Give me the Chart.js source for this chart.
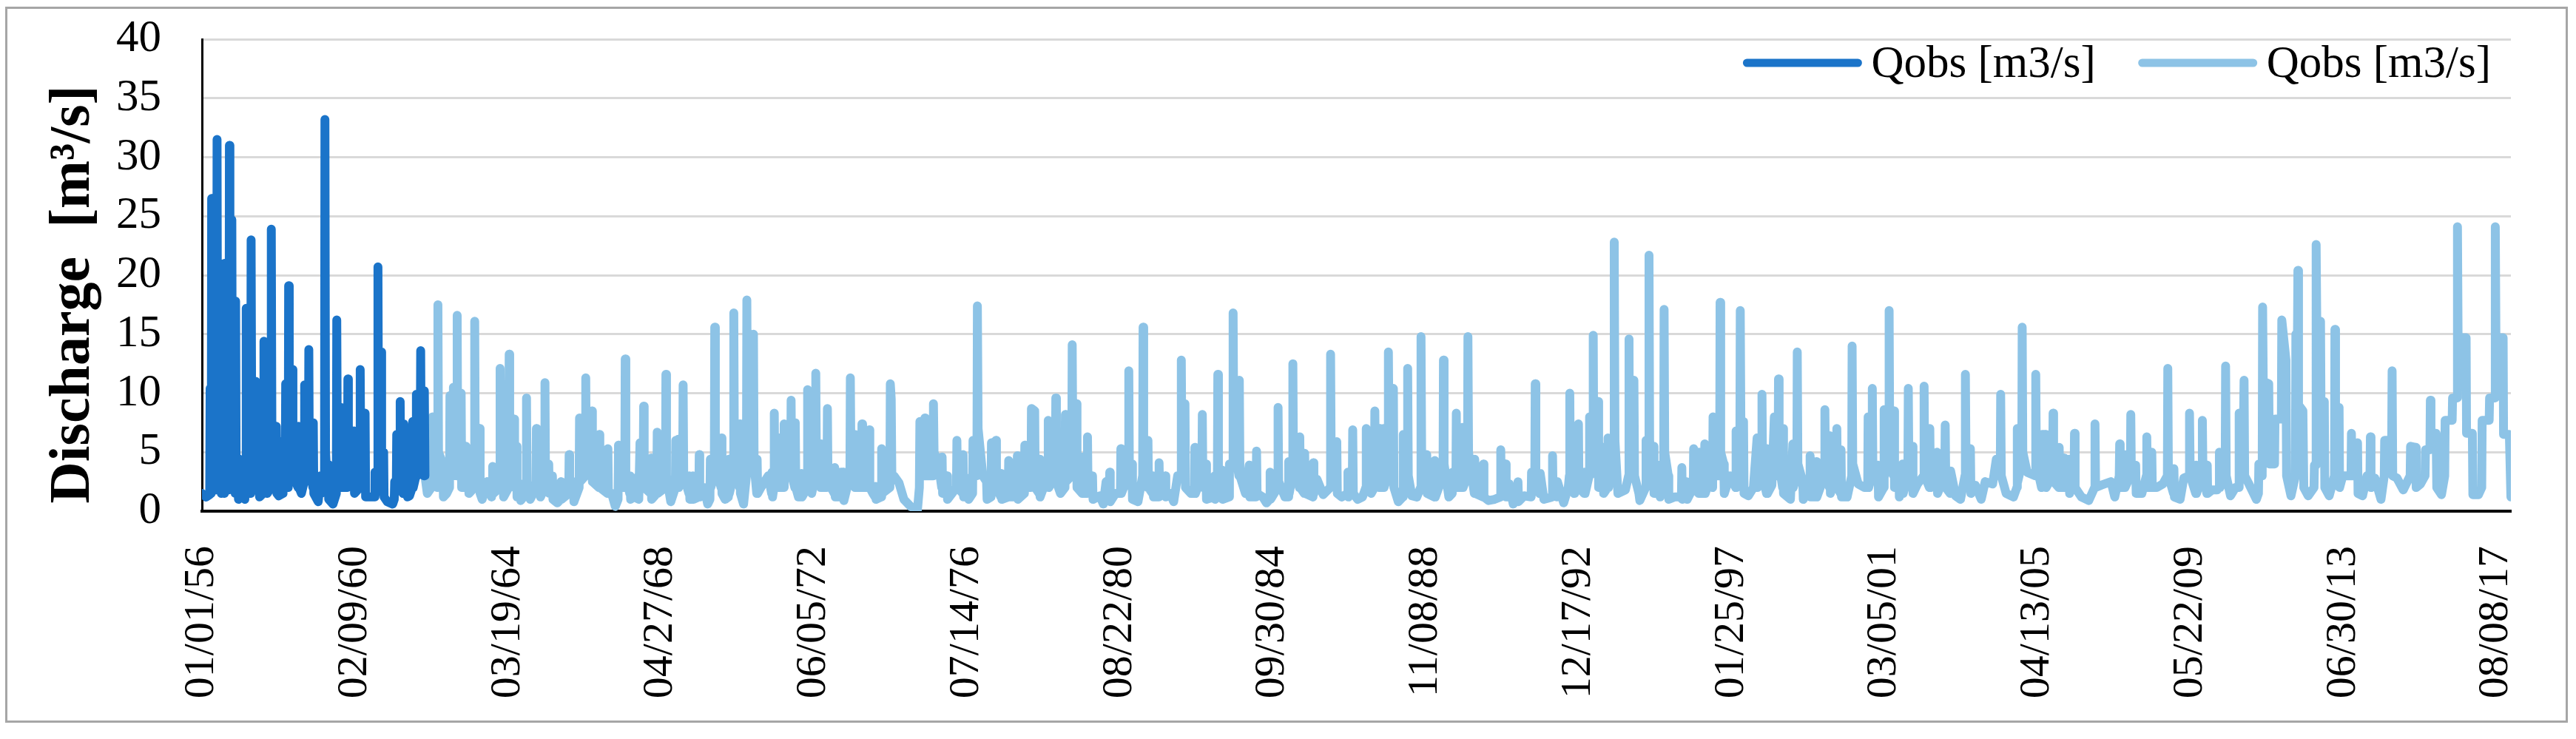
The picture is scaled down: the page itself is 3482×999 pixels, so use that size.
<!DOCTYPE html>
<html>
<head>
<meta charset="utf-8">
<script src="https://cdn.jsdelivr.net/npm/chart.js@4/dist/chart.umd.min.js"></script>
<style>
html,body{margin:0;padding:0;background:#fff;}
#wrap{position:relative;width:3482px;height:999px;overflow:hidden;}
#frame{position:absolute;left:7px;top:9px;width:3458px;height:962px;border:3px solid #a6a6a6;}
#c{position:absolute;left:0;top:0;}
</style>
</head>
<body>
<div id="wrap"><div id="frame"></div><canvas id="c" width="3482" height="999"></canvas></div>
<script>
// x values are days since 01/01/1956
const axisEndDay = 22645;
const tickDays = [0,1500,3000,4500,6000,7500,9000,10500,12000,13500,15000,16500,18000,19500,21000,22500];
const tickLabels = ['01/01/56','02/09/60','03/19/64','04/27/68','06/05/72','07/14/76','08/22/80','09/30/84','11/08/88','12/17/92','01/25/97','03/05/01','04/13/05','05/22/09','06/30/13','08/08/17'];
const seriesNames = ['Qobs [m3/s]','Qobs [m3/s]'];
const yTitle = 'Discharge  [m\u00B3/s]';

// [day, discharge m3/s]
const darkSeries = [
[0,1.5],[40,1.2],[76,1.4],[80,10.4],[84,2.0],[91,1.5],[95,26.5],[100,6],[140,1.8],[144,3],[148,31.5],[153,9],[168,2],[172,3],[190,1.5],[194,2],[196,9.4],[200,2],
[218,1.5],[221,21],[226,5],[262,1.8],[265,3],[269,31],[274,12],[289,5],[293,24.7],[298,5],[326,1.5],[330,17.8],[335,3],[350,2],[354,4.5],[358,1.0],[390,1.5],
[420,1.0],[426,3.5],[430,2],[434,17.2],[440,4],[478,1.5],[482,23],[488,7],[519,3],[523,11],[528,3],[555,2],[559,4.5],[565,1.2],[600,1.5],[604,3],[608,14.4],
[614,4],[640,1.5],[676,2],[680,23.9],[686,6],[725,2],[729,7.2],[735,1.5],[753,1.3],[795,1.5],[801,6],[810,2],[817,3],[821,10.8],[826,3],[846,2],[850,19.1],
[856,5],[882,3],[886,12],[892,3],[943,2],[947,7.2],[952,2],[975,1.5],[1003,2.5],[1007,10.7],[1012,3],[1044,3],[1048,13.7],[1053,4],[1088,2],[1092,7.5],
[1097,1.5],[1140,0.8],[1164,3],[1170,1.5],[1202,2],[1206,33.2],[1212,5],[1233,1.5],[1237,4],[1243,1],[1285,0.6],[1318,1.5],[1322,16.2],[1328,4],[1354,2],
[1358,8.8],[1364,2],[1390,2],[1394,6.5],[1398,2],[1427,2],[1431,11.2],[1436,3],[1487,2],[1491,6.8],[1496,1.5],[1548,2],[1552,12],[1558,3],[1596,2],[1600,8.3],
[1605,1.2],[1648,1.2],[1693,1.2],[1697,3.3],[1700,1.5],[1722,2],[1726,20.7],[1732,5],[1753,3],[1757,13.5],[1762,3],[1778,1.5],[1782,5],[1786,1.2],[1818,0.8],
[1870,0.6],[1886,1],[1890,2.5],[1906,2],[1910,6.5],[1915,2],[1940,2],[1944,9.3],[1950,2],[1971,1.5],[1975,7.4],[1980,1.5],[2007,1.5],[2011,5.5],[2016,1.2],
[2036,1.3],[2062,2],[2067,7.6],[2072,2],[2099,3],[2103,9.9],[2110,3],[2140,4],[2145,13.6],[2150,5],[2176,3],[2181,10.2],[2187,3]
];

const lightSeries = [
[2190,2.8],[2210,1.5],[2250,2],[2262,8],[2270,4],[2310,2],[2314,17.5],[2320,5],[2362,4],[2368,1.2],[2400,1.5],[2428,2],[2432,9.8],[2436,3],[2462,3],[2466,10.5],
[2470,4],[2500,3],[2503,16.6],[2508,5],[2538,3],[2542,10],[2547,2],[2586,2],[2590,5.5],[2594,2],[2610,2],[2614,5.3],[2618,1.5],[2672,2],[2675,16.1],[2680,5],
[2720,2],[2724,7],[2728,1.5],[2748,1.0],[2796,2.5],
[2840,1.2],[2847,2],[2851,3.8],[2858,1.5],[2920,2],[2924,12.1],[2930,4],[2949,2],[2953,3.8],[2958,1.2],[3008,2],[3013,13.3],[3018,4],[3058,3],[3062,7.8],
[3066,2],[3082,2],[3086,5.5],[3090,1.2],[3118,1.2],[3122,2.3],[3126,0.9],[3179,1.5],[3183,9.6],[3188,2.5],[3219,1.0],[3276,2],[3280,7],[3285,2],[3312,2],
[3316,4],[3320,1.2],[3360,2],[3364,10.9],[3369,3],[3397,2],[3401,4],[3406,1.5],[3433,1.5],[3437,3],[3442,1],[3485,0.7],[3518,1],[3522,2.5],[3526,1.0],
[3597,1.5],[3601,4.8],[3606,1.5],[3639,1.5],[3643,2.5],[3648,0.8],[3699,2],[3703,7.9],[3708,2.5],[3760,3],[3764,11.3],[3769,4],[3820,3],[3824,8.5],[3829,2.5],
[3893,2],[3897,6.5],[3902,2],[3977,1.5],[3981,5.3],[3986,1.5],[4018,1.5],[4054,0.4],[4081,1],[4085,5.6],[4090,2],[4147,2],[4151,12.9],[4157,3],[4195,1.5],
[4199,3],[4204,1],[4231,1.2],[4235,2.8],[4240,1.2],[4284,1.0],[4296,5.8],[4328,4],[4332,8.9],[4337,2],[4401,1.5],[4405,4.5],[4410,1],[4461,1.5],[4465,6.7],
[4470,1.5],[4546,2],[4550,11.6],[4556,3],[4598,0.8],[4643,2],[4647,6],[4652,2],[4667,2],[4671,6.1],[4676,2],[4715,4],[4719,10.7],[4725,3],[4776,1.5],[4780,3],
[4785,1],[4812,1],[4816,3],[4821,1],[4873,1.2],[4877,4.8],[4882,1.2],[4925,2],[4960,0.6],[4982,1],[4986,4.4],[4990,2],[5025,3],[5029,15.6],[5035,4],[5091,2],
[5095,6.2],[5100,1.5],[5131,1.0],[5163,1.2],[5167,4.4],[5172,1.5],[5212,3],[5216,16.8],[5222,4],[5272,2],[5276,7.4],[5281,1.5],[5312,0.6],[5340,3],[5344,17.9],
[5350,6],[5405,4],[5409,15],[5415,4],[5441,1.5],[5445,4.4],[5450,1.5],[5482,2],[5554,3],[5587,1.5],[5591,3.3],[5596,1.2],
[5609,2],[5613,8.3],[5618,3],[5658,2],[5662,6.2],[5667,2],[5706,2],[5710,7.4],[5716,3],[5730,3],[5734,7.2],[5739,3],[5774,3],[5778,9.4],[5784,3],[5815,2],
[5819,7.5],[5824,2],[5850,1.2],[5876,1.2],[5880,3.2],[5885,1.2],[5936,2],[5940,10.3],[5946,3],[5980,1.5],[6016,3],[6020,11.7],[6026,4],[6069,2],[6073,5.7],
[6078,2],[6130,2],[6134,8.7],[6140,2.5],[6202,1.5],[6206,3.7],[6211,1.2],[6263,1.2],[6267,3.3],[6291,3.3],[6296,0.9],[6355,3],[6359,11.3],[6365,4],[6396,2.5],
[6400,6.5],[6405,2],[6469,2],[6473,7.4],[6479,2],[6541,2],[6545,6.9],[6550,2],[6580,1.5],[6602,1.2],[6606,2.1],[6611,1.0],[6662,1.2],[6666,5.3],[6671,1.5],
[6747,2],[6751,10.8],[6760,9.5],[6766,3],[6787,3],[6836,2.4],[6884,1.0],[6950,0.4],[7017,0.1],[7036,2],[7041,7.6],[7050,4],[7086,3],[7090,7.9],[7095,3],
[7170,3],[7174,9.1],[7180,5],[7223,4],[7255,2],[7259,4.6],[7264,1.5],[7303,1.5],[7307,3],[7312,1],[7400,2],[7404,6],[7410,2],[7461,1.5],[7465,4.8],[7470,1.2],
[7497,1.2],[7501,2.8],[7520,1],[7558,1.5],[7562,6],[7600,3],[7605,17.4],[7612,7],[7658,3],[7695,2.5],[7700,1],[7739,1.2],[7743,5.8],[7748,1.5],[7783,2],
[7787,6],[7792,2],[7836,1.2],[7840,3.2],[7845,1],[7908,1.2],[7912,4.3],[7917,1.2],[7993,1.2],[7997,4.7],[8002,1],[8066,1.5],[8070,5.6],[8075,2],[8131,2],
[8135,8.7],[8167,8.5],[8172,2],[8211,1.5],[8215,4.4],[8220,1.2],[8296,3],[8300,7.7],[8306,2],[8370,3],[8374,9.6],[8380,2.5],[8420,1.5],
[8464,2],[8468,8.2],[8474,2.5],[8530,3],[8535,14.1],[8541,5],[8573,3],[8577,9.1],[8582,2],[8633,1.5],[8637,4.6],[8642,1.5],[8681,1.5],[8685,6.3],[8690,2],
[8730,1.5],[8734,3],[8739,1],[8806,1.3],[8840,0.6],[8867,2.5],[8899,1.5],[8903,3.3],[8908,0.8],[8960,1.5],[9008,1.5],[9012,5.3],[9017,1.5],[9086,3],[9090,11.9],
[9096,3],[9117,2],[9121,4],[9126,1],[9180,0.8],[9226,3],[9230,15.6],[9236,5],[9274,2],[9278,6],[9283,2],[9323,1.5],[9327,3],[9332,1.2],[9383,1.2],[9387,4.1],
[9392,1.5],[9444,1.5],[9448,3],[9453,1.2],[9496,1.5],[9530,0.8],[9569,3],[9601,3],[9605,12.8],[9611,4],[9637,3],[9641,9.1],[9646,2],[9700,1.5],[9734,1.5],
[9738,5.4],[9743,1.5],[9807,3],[9811,8.2],[9817,2],[9843,2],[9847,4],[9852,1],[9928,1.2],[9932,3],[9936,1],[9959,3],[9963,11.6],[9969,3],[10000,1.5],
[10004,3.5],[10009,1],[10073,1.2],[10077,4],[10109,4],[10113,16.8],[10120,6],[10170,3],[10174,11.1],[10180,3],[10234,1.5],[10271,3.9],[10276,1.2],[10339,1.2],
[10343,5.1],[10348,1.5],[10404,1.2],[10440,0.7],[10472,1],[10476,3.3],[10481,1],[10550,2],[10554,8.8],[10560,2.5],[10621,1.2],[10654,1.2],[10658,4.2],[10663,1.5],
[10695,3],[10699,12.5],[10705,4],[10763,2],[10767,6.3],[10772,2],[10811,1.5],[10815,4.9],[10820,1.5],[10896,1.2],[10900,4.1],[10905,1.5],[10936,2.7],[10997,1.4],
[11065,2],[11069,13.3],[11075,4],[11126,2],[11130,5.9],[11135,1.5],[11178,1.2],[11235,1.5],[11239,3.3],[11244,1.2],
[11282,2],[11286,6.9],[11292,1.5],[11334,1.0],[11382,1.2],[11415,2],[11419,7],[11425,2],[11467,1.5],[11499,2],[11503,8.5],[11509,3],[11548,2],[11552,7],
[11557,2],[11584,2],[11588,7],[11593,2],[11632,3],[11636,13.5],[11643,5],[11681,3],[11685,10.4],[11690,2],[11733,0.8],[11778,1.2],[11782,6.5],[11787,2],
[11821,3],[11825,12.1],[11831,3],[11866,1.3],[11915,1.2],[11952,2],[11956,14.8],[11962,5],[12008,2],[12012,4.8],[12017,1.5],[12087,1.2],[12091,4.3],[12096,1.2],
[12172,3],[12176,12.8],[12182,4],[12229,1.2],[12262,1.5],[12266,3.3],[12298,2],[12302,8.3],[12307,2],[12358,2],[12362,7.1],[12368,2],[12412,3],[12416,14.8],
[12422,5],[12479,1.5],[12483,4.4],[12488,1.5],[12564,1.2],[12568,4],[12573,1.2],[12617,0.9],[12677,1.0],[12734,1.2],[12738,5.2],[12743,2],[12782,1.5],[12786,4],
[12791,1.2],[12818,1.2],[12822,2.3],[12860,0.6],[12903,1],[12907,2.5],[12912,0.8],[12967,1.3],[13036,1.2],[13040,3.3],[13045,1.5],[13072,3],[13076,10.8],
[13082,3],[13121,1.5],[13125,3.2],[13161,1.0],[13242,1.2],[13246,4.7],[13251,1.5],[13290,1.2],[13294,2.5],[13355,0.7],[13400,2],[13411,3],[13415,10],[13421,3],
[13460,1.5],[13464,3.3],[13496,2],[13500,7.4],[13505,2],[13556,1.5],[13560,3.3],[13565,1.5],[13605,3],[13609,8],[13641,8],[13645,14.9],[13650,5],[13689,3],
[13693,9.3],[13698,2],[13738,2],[13742,5.4],[13747,1.5],[13786,2],[13790,6.2],[13795,2],[13846,5],[13851,22.8],[13858,6],[13887,1.5],[13960,1.8],[13992,3],
[13996,14.6],[14000,4],[14040,3],[14044,11.1],[14050,3],[14093,1.5],
[14102,0.9],[14159,2],[14163,6],[14188,3],[14192,21.7],[14198,6],[14232,2],[14236,5.5],[14241,1.5],[14292,1.5],[14296,3.9],[14301,1.2],[14336,3],[14340,17.1],
[14346,5],[14381,3],[14386,1],[14441,1.2],[14510,1.2],[14514,3.7],[14519,1],[14558,1.2],[14562,2.5],[14567,1],[14626,2],[14630,5.3],[14635,2],[14679,1.5],
[14683,5],[14688,1.5],[14735,1.5],[14739,5.7],[14744,1.5],[14780,2.5],[14816,2],[14820,8],[14826,3],[14885,3],[14889,17.7],[14895,5],[14925,4],[14930,1.5],
[14986,3],[15042,2],[15046,6.8],[15050,2],[15083,5],[15087,17],[15093,7],[15119,7.6],[15124,1.5],[15167,1.3],[15216,2],[15252,6.2],[15256,2],[15296,3],
[15300,9.9],[15306,3],[15345,1.5],[15349,5.3],[15354,1.5],[15397,2.2],[15421,8],[15425,3],[15458,3],[15462,11.2],[15468,4],[15502,2],[15506,7],[15511,1.5],
[15579,1.0],[15603,5.7],[15607,2],[15642,3],[15646,13.5],[15652,4],[15700,2.5],[15705,1],[15768,2],[15772,4.7],[15777,1.2],[15829,1.2],[15833,4.2],[15838,1.2],
[15913,3],[15917,8.6],[15923,3],[15962,2],[15966,6.4],[15971,1.5],[16030,3],[16034,7],[16040,2],[16071,1.5],[16075,5.2],[16080,1.2],[16135,1.2],[16180,3],
[16184,14],[16190,4],[16244,2.3],[16305,2],[16337,2],[16341,8],[16346,2],[16378,3],[16382,10.4],[16388,3],[16438,3.9],[16443,1.2],[16494,2],[16498,8.6],
[16503,3],[16543,4],[16547,17],[16553,5],[16591,3],[16595,8.5],[16600,2],[16643,3.7],[16647,1.2],[16680,4],[16685,1.5],[16731,3],[16735,10.4],[16741,3],
[16776,5.5],[16781,1.5],[16825,2.3],[16886,3],[16890,10.6],[16896,3],[16942,2],[16946,7],
[16952,2],[17013,3],[17017,5],[17022,1.5],[17093,3],[17097,7.3],[17103,2],[17146,1.5],[17150,3.4],[17199,1.3],[17247,1.0],[17291,3],[17295,11.6],[17301,4],
[17340,2],[17344,5.3],[17349,1.5],[17392,2.2],[17450,1],[17489,2.5],[17562,2.3],[17598,4.4],[17637,3],[17641,9.9],[17647,3],[17695,1.5],[17767,1.2],[17800,2],
[17804,7],[17808,2.5],[17848,4],[17852,15.6],[17858,5],[17900,3.3],[17981,3],[17985,11.6],[17991,4],[18042,2],[18046,6.5],[18082,6.5],[18087,2],[18151,3],
[18155,8.3],[18160,2.5],[18211,2],[18215,5.4],[18220,2],[18259,2],[18263,4.5],[18268,2],[18308,2],[18312,4.4],[18317,1.5],[18361,3],[18365,6.6],[18371,2],
[18433,1.2],[18505,0.9],[18562,2],[18566,7.4],[18572,2],[18626,2.2],[18723,2.5],[18760,1.2],[18804,3],[18808,5.7],[18813,2],[18852,2],[18856,4.8],[18861,2],
[18913,3],[18917,8.2],[18923,3],[18965,3.9],[18970,1.5],[19026,1.5],[19070,3],[19074,6.3],[19079,2],[19119,2],[19123,5],[19128,2],[19171,2],[19231,2.3],
[19276,3],[19280,12.1],[19286,3],[19336,1.5],[19340,3.6],[19345,1.2],[19401,1.0],[19437,2.8],[19489,3],[19493,8.3],[19500,3],[19554,1.5],[19558,3.9],[19562,1.5],
[19615,3],[19619,7.7],[19625,3],[19663,1.5],[19667,3.9],[19671,1.5],[19715,1.8],[19764,1.8],
[19782,2],[19786,5],[19792,2],[19843,3],[19847,12.3],[19853,3],[19895,1.3],[19943,2],[19976,2],[19980,8.3],[20024,8.3],[20028,11.1],[20034,3],[20076,2.3],
[20149,1.0],[20169,1.5],[20173,4],[20206,3],[20210,17.3],[20216,11],[20270,10.8],[20276,4],[20327,4],[20331,7.8],[20394,7.8],[20398,16.2],[20439,12.8],[20445,3],
[20488,1.3],[20532,3],[20536,15],[20552,15],[20556,20.4],[20562,9],[20605,8.5],[20614,2],[20657,1.3],[20714,2],[20718,3.9],[20731,3.9],[20735,22.6],[20741,16.1],
[20778,16.1],[20782,9.3],[20815,9.3],[20820,2],[20863,1.3],[20915,3],[20919,15.4],[20925,8.8],[20960,8.8],[20965,2],[20996,3],[21040,3],[21077,3],[21081,6.6],
[21087,3],[21137,3],[21141,5.8],[21146,1.5],[21190,1.3],[21234,3],[21263,3],[21267,6.3],[21273,2],[21311,2.8],[21371,1.0],[21403,3],[21407,6],[21476,6],
[21480,11.9],[21486,3],[21528,2.8],[21589,1.8],[21657,3],[21661,5.5],[21710,5.4],[21716,2],[21758,2.3],[21803,3],[21807,5.2],[21851,5.2],[21855,9.4],[21861,6.6],
[21912,6.6],[21918,2],[21964,1.4],[21996,3],[22000,7.7],[22069,7.7],[22073,9.6],[22117,9.6],[22121,24.1],[22127,14.7],[22206,14.7],[22210,6.6],[22267,6.6],
[22272,1.4],[22327,1.4],[22359,2],[22363,7.7],[22432,7.7],[22436,9.6],[22488,9.6],[22492,24.1],[22498,14.7],[22569,14.7],[22573,6.5],[22630,6.5],[22645,1.2]
];

const SERIF = '"Liberation Serif", "Times New Roman", serif';
const darkColor = '#1b74c9';
const lightColor = '#8dc3e6';

const legendPlugin = {
  id: 'excelLegend',
  afterDraw(chart) {
    const ctx = chart.ctx, area = chart.chartArea;
    ctx.save();
    ctx.font = '61px ' + SERIF;
    ctx.textAlign = 'left';
    ctx.textBaseline = 'alphabetic';
    const sample = 160, gapText = 13, gapItems = 58, lineY = 85, baseY = 104;
    const items = chart.data.datasets.map(ds => ({label: ds.label, color: ds.borderColor, w: ctx.measureText(ds.label).width}));
    const total = items.reduce((s, it) => s + sample + gapText + it.w, 0) + gapItems * (items.length - 1);
    let x = area.right - 27 - total;
    items.forEach(it => {
      ctx.strokeStyle = it.color;
      ctx.lineWidth = 11;
      ctx.lineCap = 'round';
      ctx.beginPath();
      ctx.moveTo(x + 5, lineY);
      ctx.lineTo(x + sample - 5, lineY);
      ctx.stroke();
      ctx.fillStyle = '#000';
      ctx.fillText(it.label, x + sample + gapText, baseY);
      x += sample + gapText + it.w + gapItems;
    });
    ctx.restore();
  }
};

const yTitlePlugin = {
  id: 'yTitle',
  afterDraw(chart) {
    const ctx = chart.ctx;
    ctx.save();
    ctx.font = 'bold 78px ' + SERIF;
    ctx.fillStyle = '#000';
    ctx.textAlign = 'center';
    ctx.textBaseline = 'alphabetic';
    ctx.translate(120, 398);
    ctx.rotate(-Math.PI / 2);
    ctx.fillText(yTitle, 0, 0);
    ctx.restore();
  }
};

const toPoints = arr => arr.map(p => ({x: p[0], y: p[1]}));

new Chart(document.getElementById('c'), {
  type: 'line',
  data: {
    datasets: [
      {label: seriesNames[0], data: toPoints(darkSeries), borderColor: darkColor, backgroundColor: darkColor,
       borderWidth: 12, pointRadius: 0, borderCapStyle: 'round', borderJoinStyle: 'round', tension: 0, fill: false},
      {label: seriesNames[1], data: toPoints(lightSeries), borderColor: lightColor, backgroundColor: lightColor,
       borderWidth: 12, pointRadius: 0, borderCapStyle: 'round', borderJoinStyle: 'round', tension: 0, fill: false}
    ]
  },
  options: {
    responsive: false,
    animation: false,
    devicePixelRatio: 1,
    layout: {padding: {left: 0, right: 88, top: 53, bottom: 0}},
    plugins: {legend: {display: false}, tooltip: {enabled: false}},
    scales: {
      x: {
        type: 'linear', min: 0, max: axisEndDay,
        afterBuildTicks: s => { s.ticks = tickDays.map(v => ({value: v})); },
        afterFit: s => { s.height = 308; },
        ticks: {
          autoSkip: false, minRotation: 90, maxRotation: 90, padding: 0, color: '#000',
          font: {family: SERIF, size: 58},
          callback: v => tickLabels[tickDays.indexOf(v)]
        },
        grid: {display: false, drawTicks: true, tickLength: 47},
        border: {display: true, color: '#000', width: 4}
      },
      y: {
        min: 0, max: 40,
        afterFit: s => { s.width = 273; },
        ticks: {stepSize: 5, padding: 0, color: '#000', font: {family: SERIF, size: 61}},
        grid: {color: '#d9d9d9', lineWidth: 3, drawTicks: true, tickLength: 55, tickColor: 'rgba(0,0,0,0)'},
        border: {display: true, color: '#000', width: 3}
      }
    }
  },
  plugins: [legendPlugin, yTitlePlugin]
});
</script>
</body>
</html>
